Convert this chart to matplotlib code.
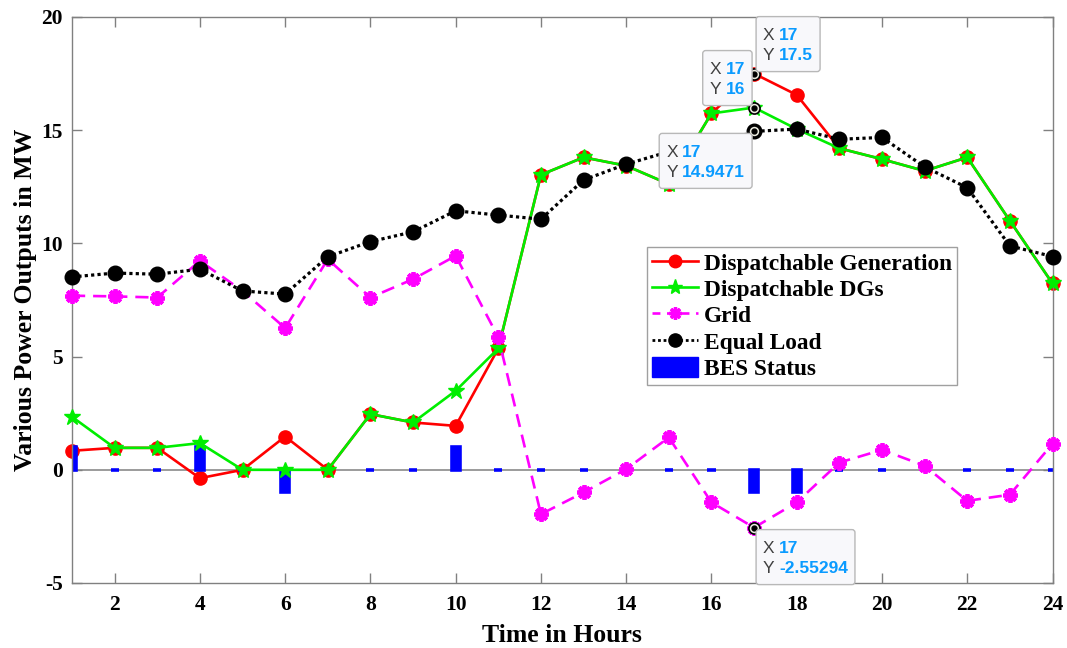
import matplotlib
matplotlib.use("Agg")
import matplotlib.pyplot as plt
from matplotlib.patches import FancyBboxPatch, Rectangle
from matplotlib.transforms import IdentityTransform
from matplotlib.lines import Line2D

plt.rcParams["axes.unicode_minus"] = False

# ---------------- data ----------------
hours = list(range(1, 25))
gen = [0.84, 0.97, 0.97, -0.37, 0.0, 1.47, 0.0, 2.46, 2.09, 1.94, 5.36, 13.03,
       13.8, 13.43, 12.62, 15.74, 17.5, 16.56, 14.2, 13.72, 13.2, 13.8, 11.0, 8.23]
dgs = [2.34, 0.97, 0.97, 1.18, 0.0, 0.0, 0.0, 2.46, 2.09, 3.49, 5.36, 13.03,
       13.8, 13.43, 12.62, 15.74, 16.0, 15.05, 14.2, 13.72, 13.2, 13.8, 11.0, 8.23]
grid = [7.69, 7.66, 7.61, 9.23, 7.9, 6.26, 9.3, 7.61, 8.42, 9.45, 5.85, -1.96,
        -1.0, 0.03, 1.43, -1.44, -2.55294, -1.44, 0.32, 0.88, 0.18, -1.37, -1.1, 1.15]
load = [8.52, 8.69, 8.64, 8.86, 7.9, 7.76, 9.41, 10.08, 10.51, 11.44, 11.25, 11.07,
        12.8, 13.5, 14.05, 14.3, 14.9471, 15.05, 14.6, 14.68, 13.38, 12.46, 9.89, 9.42]
bes = [1, 0, 0, 1, 0, -1, 0, 0, 0, 1, 0, 0, 0, 0, 0, 0, -1, -1, 0, 0, 0, 0, 0, 0]

series_labels = ["Dispatchable Generation", "Dispatchable DGs", "Grid", "Equal Load", "BES Status"]
x_ticks = [2, 4, 6, 8, 10, 12, 14, 16, 18, 20, 22, 24]
y_ticks = [-5, 0, 5, 10, 15, 20]
x_label = "Time in Hours"
y_label = "Various Power Outputs in MW"

# datatips: (x, y, x_text, y_text, side)
tips = [(17, 17.5, "17", "17.5", "ur"), (17, 16.0, "17", "16", "ul"),
        (17, 14.9471, "17", "14.9471", "ll"), (17, -2.55294, "17", "-2.55294", "lr")]

# ---------------- figure ----------------
W, H = 1067, 648
fig = plt.figure(figsize=(W / 100, H / 100), dpi=100)
L, R, T, B = 72, 1052.5, 17, 583
ax = fig.add_axes([L / W, 1 - B / H, (R - L) / W, (B - T) / H])

serif = "Liberation Serif"
sans = "Liberation Sans"
gray = "#808080"

ax.axhline(0, color="#8a8a8a", lw=1.2, zorder=1)

ax.plot(hours, gen, color="#ff0000", lw=1.9, marker="o", ms=9.5, mfc="#ff0000",
        mec="#ff0000", zorder=2, clip_on=False, label=series_labels[0])
ax.bar(hours, bes, width=0.19, color="#0000ff", edgecolor="#0000ff",
       lw=2.6, zorder=2.5, label=series_labels[4])
ax.plot(hours, dgs, color="#00ee00", lw=1.9, marker="*", ms=12, mfc="#00ee00",
        mec="#00ee00", zorder=3, clip_on=False, label=series_labels[1])
ax.plot(hours, grid, color="#ff00ff", lw=1.9, dashes=(5, 3), marker=(8, 2, 0), ms=10.5,
        mew=2.8, mec="#ff00ff", mfc="#ff00ff", zorder=3.5, clip_on=False,
        label=series_labels[2])
ax.plot(hours, load, color="black", lw=2.3, dashes=(1, 1), marker="o", ms=10.5,
        mfc="black", mec="black", zorder=4, clip_on=False, label=series_labels[3])

ax.set_xlim(1, 24)
ax.set_ylim(-5, 20)
ax.set_xticks(x_ticks)
ax.set_yticks(y_ticks)
for s in ax.spines.values():
    s.set_color(gray)
    s.set_linewidth(1.0)
ax.tick_params(direction="in", length=7, width=1.0, color=gray, top=True, right=True,
               labelsize=15.5)
ax.tick_params(axis="x", pad=9)
ax.tick_params(axis="y", pad=6.5)
for lab in ax.get_xticklabels() + ax.get_yticklabels():
    lab.set_fontfamily(serif)
    lab.set_fontweight("bold")
ax.set_xlabel(x_label, fontsize=18.5, fontfamily=serif, fontweight="bold", labelpad=6)
ax.set_ylabel(y_label, fontsize=18.5, fontfamily=serif, fontweight="bold", labelpad=3)

# legend
h = [Line2D([], [], color="#ff0000", lw=1.9, marker="o", ms=9, mfc="#ff0000", mec="#ff0000"),
     Line2D([], [], color="#00ee00", lw=1.9, marker="*", ms=11, mfc="#00ee00", mec="#00ee00"),
     Line2D([], [], color="#ff00ff", lw=1.9, dashes=(3, 2.5), marker=(8, 2, 0), ms=9, mew=2.4,
            mec="#ff00ff"),
     Line2D([], [], color="black", lw=2.0, dashes=(1, 1), marker="o", ms=9.5, mfc="black"),
     Rectangle((0, 0), 1, 1, fc="#0000ff", ec="#0000ff")]
leg = ax.legend(h, series_labels, loc="upper left",
                bbox_to_anchor=((647 - L) / (R - L), (B - 247) / (B - T)),
                prop={"family": serif, "weight": "bold", "size": 16.8},
                frameon=True, fancybox=False, handlelength=2.0, handleheight=0.95,
                handletextpad=0.25, labelspacing=0.14, borderpad=0.2,
                borderaxespad=0, framealpha=1)
leg.get_frame().set_edgecolor("#a0a0a0")
leg.get_frame().set_linewidth(1.0)
leg.set_zorder(6)

# datatips
fig.canvas.draw()
renderer = fig.canvas.get_renderer()
blue = "#0a9bff"
dark = "#404040"
tfs = 12.5
for (tx, ty, xs, ys, side) in tips:
    px, py = ax.transData.transform((tx, ty))
    ax.plot([tx], [ty], marker="o", ms=8, mfc="#ecece0", mec="black", mew=1.2,
            zorder=9, clip_on=False)
    ax.plot([tx], [ty], marker="o", ms=3.5, mfc="black", mec="black", zorder=9.5, clip_on=False)
    tmp = fig.text(0, 0, ys, fontsize=tfs, fontfamily=sans, fontweight="bold")
    vw = tmp.get_window_extent(renderer).width
    tmp.remove()
    bw = 7 + 16 + vw + 7
    bh = 55
    gap = 2
    x0 = px + gap if side[1] == "r" else px - gap - bw
    y0 = py + gap if side[0] == "u" else py - gap - bh
    box = FancyBboxPatch((x0, y0), bw, bh, boxstyle="round,pad=0,rounding_size=3",
                         fc="#f8f8fb", ec="#b8b8b8", lw=1.0, transform=IdentityTransform(),
                         zorder=10)
    fig.add_artist(box)
    for row, (k, v) in enumerate([("X", xs), ("Y", ys)]):
        yc = y0 + bh - 19 - row * 20
        fig.text(x0 + 7, yc, k, fontsize=tfs, fontfamily=sans, color=dark, va="center",
                 ha="left", transform=IdentityTransform(), zorder=11)
        fig.text(x0 + 7 + 16, yc, v, fontsize=tfs, fontfamily=sans, fontweight="bold",
                 color=blue, va="center", ha="left", transform=IdentityTransform(), zorder=11)

fig.savefig("out.png", dpi=100)
